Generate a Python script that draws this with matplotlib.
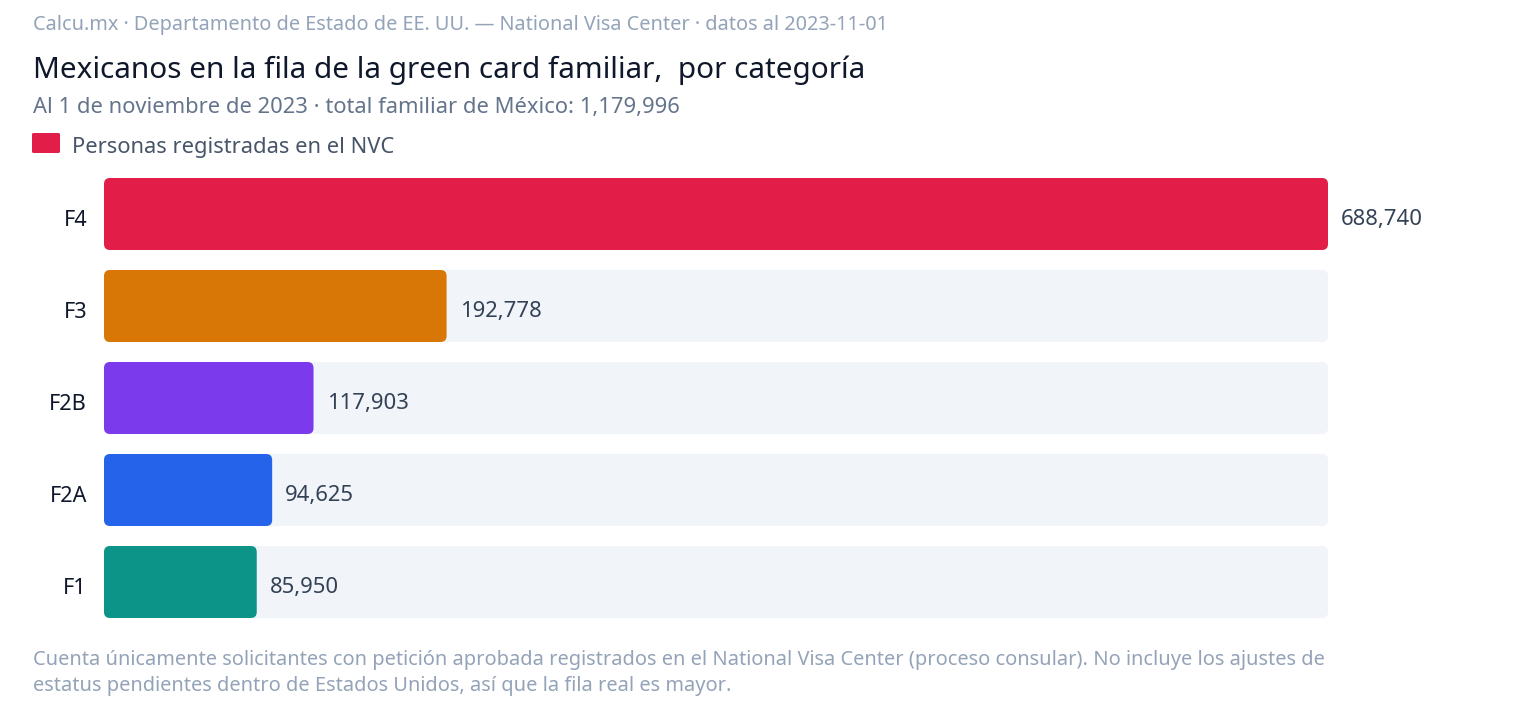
import matplotlib.pyplot as plt
from matplotlib.patches import FancyBboxPatch

plt.rcParams['font.family'] = ['Noto Sans', 'DejaVu Sans']

# Data
categories = ['F4', 'F3', 'F2B', 'F2A', 'F1']
personas = [688740, 192778, 117903, 94625, 85950]
colors = ['#e11d48', '#d97706', '#7c3aed', '#2563eb', '#0d9488']

W, H = 1520, 702
fig = plt.figure(figsize=(W / 100, H / 100), dpi=100)

# axes placed in pixel terms: track spans x 104..1328, rows 168..628
ax_left, ax_right = 104, 1328
ax_top, ax_bottom = 168, 628
ax = fig.add_axes([ax_left / W, 1 - ax_bottom / H,
                   (ax_right - ax_left) / W, (ax_bottom - ax_top) / H])
xmax = max(personas)
ax.set_xlim(0, xmax)
ax.set_ylim(len(categories) - 0.5, -0.5)
ax.axis('off')

x_per_px = xmax / (ax_right - ax_left)
y_per_px = len(categories) / (ax_bottom - ax_top)
radius_px = 6
bar_h = 72 * y_per_px


def rounded_bar(y, width, color):
    p = FancyBboxPatch((0, y - bar_h / 2), width, bar_h,
                       boxstyle=f"round,pad=0,rounding_size={radius_px * x_per_px}",
                       mutation_aspect=y_per_px / x_per_px,
                       facecolor=color, edgecolor='none', linewidth=0)
    ax.add_patch(p)


for i, (cat, val, col) in enumerate(zip(categories, personas, colors)):
    rounded_bar(i, xmax, '#f1f4f9')
    rounded_bar(i, val, col)
    ax.annotate(f"{val:,}", (val, i), xytext=(13, -6), textcoords='offset pixels',
                ha='left', va='center', fontsize=15.9, color='#334155',
                annotation_clip=False)
    ax.annotate(cat, (0, i), xytext=(-17, -6), textcoords='offset pixels',
                ha='right', va='center', fontsize=15.6, color='#0f172a',
                annotation_clip=False)

# header (shifted a few px down to match glyph centres)
fig.text(33 / W, 1 - 25 / H, 'Calcu.mx · Departamento de Estado de EE. UU. — National Visa Center · datos al 2023-11-01',
         ha='left', va='center', fontsize=14.35, color='#94a3b8')
fig.text(33 / W, 1 - 70 / H, 'Mexicanos en la fila de la green card familiar,  por categoría',
         ha='left', va='center', fontsize=21.4, color='#0f172a')
fig.text(33 / W, 1 - 107 / H, 'Al 1 de noviembre de 2023 · total familiar de México: 1,179,996',
         ha='left', va='center', fontsize=15.8, color='#64748b')

# legend
fig.patches.append(FancyBboxPatch((32 / W, 1 - 153 / H), 28 / W, 20 / H,
                                  boxstyle="round,pad=0,rounding_size=0.0015",
                                  transform=fig.transFigure, facecolor='#e11d48',
                                  edgecolor='none', figure=fig))
fig.text(72 / W, 1 - 148 / H, 'Personas registradas en el NVC',
         ha='left', va='center', fontsize=15.8, color='#475569')

# footnote
fig.text(33 / W, 1 - 660 / H,
         'Cuenta únicamente solicitantes con petición aprobada registrados en el National Visa Center (proceso consular). No incluye los ajustes de',
         ha='left', va='center', fontsize=14.4, color='#94a3b8')
fig.text(33 / W, 1 - 686 / H,
         'estatus pendientes dentro de Estados Unidos, así que la fila real es mayor.',
         ha='left', va='center', fontsize=14.4, color='#94a3b8')

fig.savefig('out.png', dpi=100)
